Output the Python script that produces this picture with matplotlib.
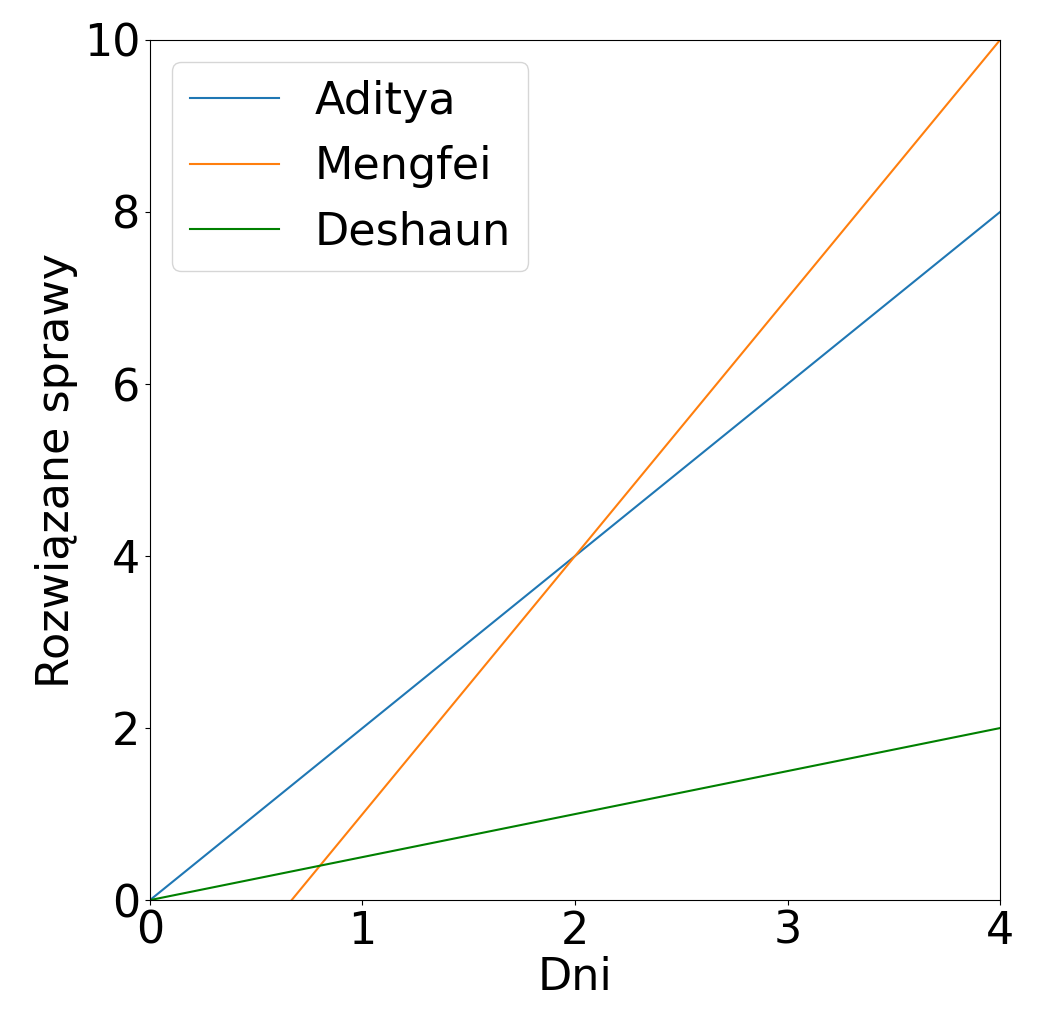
import matplotlib
matplotlib.use('Agg')
import matplotlib.pyplot as plt

# data
days = [0, 4]
names = ['Aditya', 'Mengfei', 'Deshaun']
aditya = [0, 8]
mengfei = [-2, 10]
deshaun = [0, 2]

fig = plt.figure(figsize=(10.45, 10.24), dpi=100)
ax = fig.add_axes([0.1435, 0.121, 0.8135, 0.84])

ax.plot(days, aditya, color='#1f77b4', label=names[0])
ax.plot(days, mengfei, color='#ff7f0e', label=names[1])
ax.plot(days, deshaun, color='green', label=names[2])

ax.set_xlim(0, 4)
ax.set_ylim(0, 10)
ax.set_xticks([0, 1, 2, 3, 4])
ax.set_yticks([0, 2, 4, 6, 8, 10])
ax.tick_params(labelsize=32)
ax.set_xlabel('Dni', fontsize=32, labelpad=2)
ax.set_ylabel('Rozwiązane sprawy', fontsize=32)
ax.legend(loc='upper left', fontsize=32)

fig.savefig('out.png', dpi=100)
